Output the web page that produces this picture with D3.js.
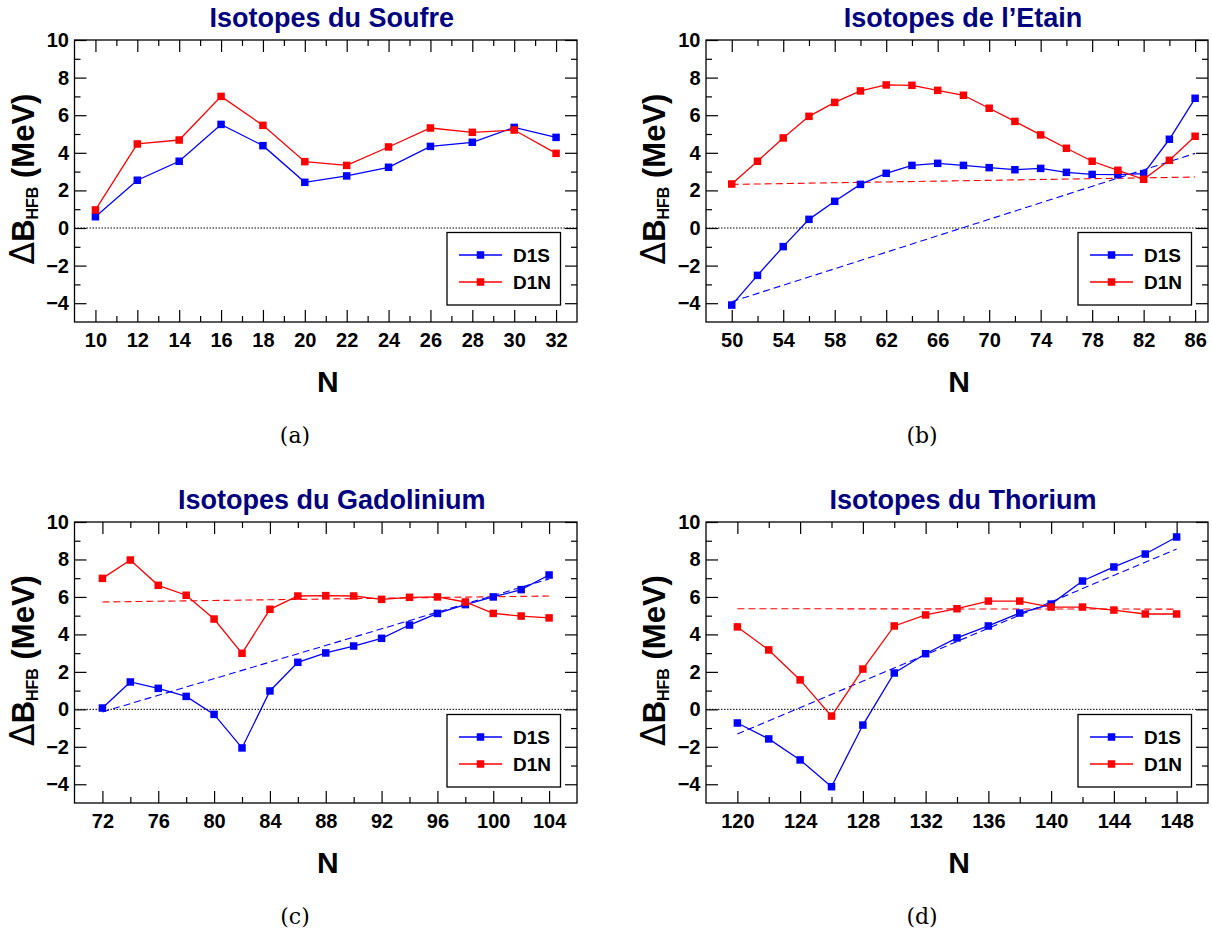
<!DOCTYPE html>
<html><head><meta charset="utf-8">
<script src="https://cdn.jsdelivr.net/npm/d3@7"></script>
<style>body{margin:0;background:#fff;} svg{display:block;}</style>
</head><body>
<svg id="chart" width="1212" height="935"></svg>
<script>
// ---------- data ----------
const yTicks = [-4, -2, 0, 2, 4, 6, 8, 10];
const seriesNames = ["D1S", "D1N"];

// (a) Soufre
const soufreTitle = "Isotopes du Soufre";
const soufreN = [10, 12, 14, 16, 18, 20, 22, 24, 26, 28, 30, 32];
const soufreD1S = [0.60, 2.54, 3.55, 5.51, 4.38, 2.43, 2.77, 3.23, 4.34, 4.56, 5.35, 4.82];
const soufreD1N = [0.96, 4.47, 4.68, 7.00, 5.46, 3.53, 3.33, 4.31, 5.32, 5.09, 5.21, 3.97];
const soufreTicks = [10, 12, 14, 16, 18, 20, 22, 24, 26, 28, 30, 32];

// (b) Etain
const etainTitle = "Isotopes de l\u2019Etain";
const etainN = [50, 52, 54, 56, 58, 60, 62, 64, 66, 68, 70, 72, 74, 76, 78, 80, 82, 84, 86];
const etainD1S = [-4.10, -2.52, -0.99, 0.46, 1.42, 2.32, 2.91, 3.33, 3.44, 3.33, 3.21, 3.10, 3.17, 2.96, 2.85, 2.84, 2.89, 4.72, 6.90];
const etainD1N = [2.34, 3.55, 4.79, 5.94, 6.68, 7.29, 7.61, 7.59, 7.32, 7.06, 6.37, 5.67, 4.95, 4.24, 3.55, 3.07, 2.59, 3.60, 4.88];
const etainFitN = [50, 86];
const etainFitD1S = [-3.92, 3.97];
const etainFitD1N = [2.32, 2.71];
const etainTicks = [50, 54, 58, 62, 66, 70, 74, 78, 82, 86];

// (c) Gadolinium
const gdTitle = "Isotopes du Gadolinium";
const gdN = [72, 74, 76, 78, 80, 82, 84, 86, 88, 90, 92, 94, 96, 98, 100, 102, 104];
const gdD1S = [0.07, 1.46, 1.12, 0.69, -0.27, -2.06, 0.98, 2.51, 3.01, 3.38, 3.79, 4.50, 5.12, 5.59, 6.00, 6.39, 7.17];
const gdD1N = [6.99, 7.97, 6.62, 6.09, 4.82, 2.99, 5.34, 6.05, 6.07, 6.05, 5.87, 5.98, 6.00, 5.73, 5.12, 4.98, 4.88];
const gdFitN = [72, 104];
const gdFitD1S = [-0.14, 6.96];
const gdFitD1N = [5.73, 6.05];
const gdTicks = [72, 76, 80, 84, 88, 92, 96, 100, 104];

// (d) Thorium
const thTitle = "Isotopes du Thorium";
const thN = [120, 122, 124, 126, 128, 130, 132, 134, 136, 138, 140, 142, 144, 146, 148];
const thD1S = [-0.73, -1.58, -2.70, -4.13, -0.84, 1.94, 2.97, 3.81, 4.45, 5.14, 5.62, 6.85, 7.60, 8.29, 9.20];
const thD1N = [4.40, 3.17, 1.57, -0.36, 2.15, 4.45, 5.04, 5.37, 5.78, 5.78, 5.46, 5.46, 5.30, 5.09, 5.09];
const thFitN = [120, 148];
const thFitD1S = [-1.32, 8.56];
const thFitD1N = [5.37, 5.35];
const thTicks = [120, 124, 128, 132, 136, 140, 144, 148];

// ---------- layout ----------
const svg = d3.select("#chart");
const FONT = "'Liberation Sans', Arial, Helvetica, sans-serif";
const BLUE = "#0000ff", RED = "#ff0000";

const panels = [
  {title: soufreTitle, N: soufreN, s1: soufreD1S, s2: soufreD1N, ticks: soufreTicks, minorStep: 1,
   xdom: [9, 33], box: [74.5, 577, 40, 322], cap: "(a)", capX: 295},
  {title: etainTitle, N: etainN, s1: etainD1S, s2: etainD1N, ticks: etainTicks, minorStep: 2,
   fitN: etainFitN, f1: etainFitD1S, f2: etainFitD1N,
   xdom: [48, 87], box: [706, 1208, 40, 322], cap: "(b)", capX: 922},
  {title: gdTitle, N: gdN, s1: gdD1S, s2: gdD1N, ticks: gdTicks, minorStep: 2,
   fitN: gdFitN, f1: gdFitD1S, f2: gdFitD1N,
   xdom: [70, 106], box: [74.5, 577, 522, 803], cap: "(c)", capX: 295},
  {title: thTitle, N: thN, s1: thD1S, s2: thD1N, ticks: thTicks, minorStep: 2,
   fitN: thFitN, f1: thFitD1S, f2: thFitD1N,
   xdom: [118, 150], box: [706, 1208, 522, 803], cap: "(d)", capX: 922}
];

function styleAxis(g) {
  g.select(".domain").remove();
  g.selectAll(".tick line").attr("stroke", "#000").attr("stroke-width", 1.2);
  g.selectAll("text").attr("font-family", FONT).attr("font-weight", "bold")
    .attr("font-size", 20).attr("fill", "#000");
}

panels.forEach(p => {
  const [x0, x1, y0, y1] = p.box;
  const x = d3.scaleLinear().domain(p.xdom).range([x0, x1]);
  const y = d3.scaleLinear().domain([-5, 10]).range([y1, y0]);
  const g = svg.append("g");

  const minorX = d3.range(Math.ceil(p.xdom[0]), p.xdom[1] + 0.001, p.minorStep)
    .filter(v => !p.ticks.includes(v) && v > p.xdom[0] && v < p.xdom[1]);
  const minorY = d3.range(-5, 10.001, 1).filter(v => !yTicks.includes(v) && v > -5 && v < 10);

  const MAJ = 12, MIN = 6;
  g.append("g").attr("transform", `translate(0,${y1})`)
    .call(d3.axisBottom(x).tickValues(p.ticks).tickSizeInner(-MAJ).tickSizeOuter(0).tickPadding(11).tickFormat(d3.format("d")))
    .call(styleAxis);
  g.append("g").attr("transform", `translate(0,${y1})`)
    .call(d3.axisBottom(x).tickValues(minorX).tickSizeInner(-MIN).tickSizeOuter(0).tickFormat(""))
    .call(styleAxis);
  g.append("g").attr("transform", `translate(0,${y0})`)
    .call(d3.axisTop(x).tickValues(p.ticks).tickSizeInner(-MAJ).tickSizeOuter(0).tickFormat(""))
    .call(styleAxis);
  g.append("g").attr("transform", `translate(0,${y0})`)
    .call(d3.axisTop(x).tickValues(minorX).tickSizeInner(-MIN).tickSizeOuter(0).tickFormat(""))
    .call(styleAxis);
  g.append("g").attr("transform", `translate(${x0},0)`)
    .call(d3.axisLeft(y).tickValues(yTicks).tickSizeInner(-MAJ).tickSizeOuter(0).tickPadding(5.5).tickFormat(d3.format("d")))
    .call(styleAxis);
  g.append("g").attr("transform", `translate(${x0},0)`)
    .call(d3.axisLeft(y).tickValues(minorY).tickSizeInner(-MIN).tickSizeOuter(0).tickFormat(""))
    .call(styleAxis);
  g.append("g").attr("transform", `translate(${x1},0)`)
    .call(d3.axisRight(y).tickValues(yTicks).tickSizeInner(-MAJ).tickSizeOuter(0).tickFormat(""))
    .call(styleAxis);
  g.append("g").attr("transform", `translate(${x1},0)`)
    .call(d3.axisRight(y).tickValues(minorY).tickSizeInner(-MIN).tickSizeOuter(0).tickFormat(""))
    .call(styleAxis);

  g.append("rect").attr("x", x0).attr("y", y0).attr("width", x1 - x0).attr("height", y1 - y0)
    .attr("fill", "none").attr("stroke", "#000").attr("stroke-width", 1.3);

  g.append("line").attr("x1", x0).attr("x2", x1).attr("y1", y(0)).attr("y2", y(0))
    .attr("stroke", "#000").attr("stroke-width", 1).attr("stroke-dasharray", "1.5,1.5");

  const line = d3.line().x(d => x(d[0])).y(d => y(d[1]));

  if (p.fitN) {
    [[p.f1, BLUE], [p.f2, RED]].forEach(([f, c]) => {
      g.append("path").attr("d", line(p.fitN.map((n, i) => [n, f[i]])))
        .attr("fill", "none").attr("stroke", c).attr("stroke-width", 1.1).attr("stroke-dasharray", "7,4");
    });
  }

  const MS = 7.5;
  [[p.s1, BLUE], [p.s2, RED]].forEach(([s, c]) => {
    const pts = p.N.map((n, i) => [n, s[i]]);
    g.append("path").attr("d", line(pts)).attr("fill", "none").attr("stroke", c).attr("stroke-width", 1.3);
    g.selectAll(null).data(pts).enter().append("rect")
      .attr("x", d => x(d[0]) - MS / 2).attr("y", d => y(d[1]) - MS / 2)
      .attr("width", MS).attr("height", MS).attr("fill", c);
  });

  const lx = x1 - 16.5 - 113.5, ly = y0 + 192.5;
  g.append("rect").attr("x", lx).attr("y", ly).attr("width", 113.5).attr("height", 72.5)
    .attr("fill", "#fff").attr("stroke", "#000").attr("stroke-width", 1.3);
  [[BLUE, 0], [RED, 1]].forEach(([c, i]) => {
    const cy = ly + 22.5 + i * 27;
    g.append("line").attr("x1", lx + 12).attr("x2", lx + 55).attr("y1", cy).attr("y2", cy)
      .attr("stroke", c).attr("stroke-width", 1.3);
    g.append("rect").attr("x", lx + 33.5 - MS / 2).attr("y", cy - MS / 2).attr("width", MS).attr("height", MS).attr("fill", c);
    g.append("text").attr("x", lx + 66).attr("y", cy + 7).text(seriesNames[i])
      .attr("font-family", FONT).attr("font-weight", "bold").attr("font-size", 19).attr("fill", "#000");
  });

  g.append("text").attr("x", (x0 + x1) / 2 + 6).attr("y", y0 - 13).attr("text-anchor", "middle")
    .attr("font-family", FONT).attr("font-weight", "bold").attr("font-size", 27).attr("fill", "#000080")
    .text(p.title);

  g.append("text").attr("x", (x0 + x1) / 2 + 2).attr("y", y1 + 70).attr("text-anchor", "middle")
    .attr("font-family", FONT).attr("font-weight", "bold").attr("font-size", 30).attr("fill", "#000")
    .text("N");

  const yl = g.append("text").attr("transform", `translate(${x0 - 41},${(y0 + y1) / 2 - 2}) rotate(-90)`)
    .attr("text-anchor", "middle").attr("font-family", FONT).attr("font-weight", "bold")
    .attr("font-size", 31).attr("fill", "#000");
  yl.append("tspan").attr("font-family", "'DejaVu Sans', sans-serif").attr("font-weight", "normal").attr("font-size", 33).text("\u0394");
  yl.append("tspan").text("B");
  yl.append("tspan").attr("font-size", 16).attr("dy", 4).text("HFB");
  yl.append("tspan").attr("dy", -4).text(" (MeV)");

  g.append("text").attr("x", p.capX).attr("y", y1 + 121).attr("text-anchor", "middle")
    .attr("font-family", "'DejaVu Serif', 'Liberation Serif', serif").attr("font-size", 22).attr("fill", "#000")
    .text(p.cap);
});
</script>
</body></html>
